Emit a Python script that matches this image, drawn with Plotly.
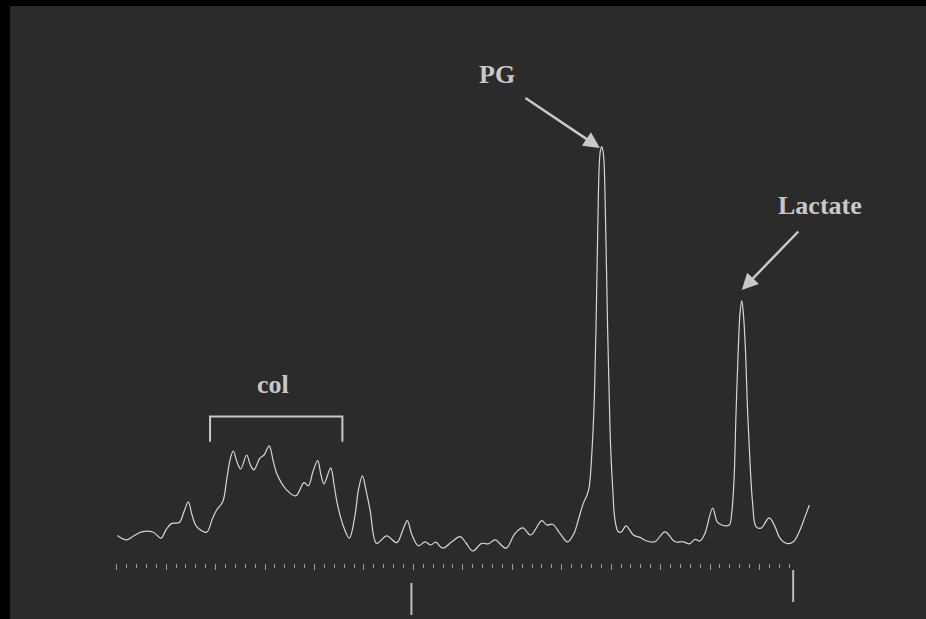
import plotly.graph_objects as go

# ---- spectrum (chemical shift in ppm, intensity normalised to PG peak) ----
ppm = [4.497, 4.449, 4.413, 4.374, 4.315, 4.276, 4.251, 4.222, 4.184, 4.160,
       4.138, 4.119, 4.096, 4.045, 4.018, 3.994, 3.964, 3.944, 3.927, 3.911,
       3.892, 3.873, 3.843, 3.824, 3.806, 3.776, 3.755, 3.729, 3.710, 3.691,
       3.641, 3.594, 3.553, 3.531, 3.508, 3.484, 3.467, 3.452, 3.418, 3.401,
       3.385, 3.356, 3.324, 3.295, 3.278, 3.258, 3.240, 3.219, 3.186, 3.135,
       3.084, 3.053, 3.031, 3.007, 2.975, 2.941, 2.913, 2.887, 2.852, 2.806,
       2.764, 2.734, 2.700, 2.655, 2.621, 2.587, 2.532, 2.486, 2.447, 2.407,
       2.351, 2.326, 2.296, 2.259, 2.220, 2.188, 2.166, 2.141, 2.122, 2.111,
       2.096, 2.085, 2.077, 2.068, 2.060, 2.054, 2.048, 2.041, 2.036, 2.026,
       2.018, 2.010, 2.003, 1.992, 1.981, 1.964, 1.947, 1.925, 1.888, 1.854,
       1.821, 1.779, 1.728, 1.677, 1.635, 1.605, 1.576, 1.551, 1.526, 1.487,
       1.464, 1.441, 1.403, 1.391, 1.379, 1.369, 1.357, 1.349, 1.340, 1.332,
       1.322, 1.310, 1.298, 1.285, 1.268, 1.243, 1.201, 1.172, 1.147, 1.113,
       1.079, 1.045, 1.020, 0.998]
intensity = [0.024, 0.013, 0.023, 0.033, 0.032, 0.017, 0.038, 0.054, 0.056, 0.083,
             0.108, 0.075, 0.046, 0.032, 0.063, 0.088, 0.108, 0.163, 0.213, 0.235,
             0.208, 0.190, 0.225, 0.200, 0.188, 0.217, 0.225, 0.248, 0.213, 0.179,
             0.138, 0.123, 0.156, 0.148, 0.183, 0.211, 0.175, 0.153, 0.193, 0.150,
             0.104, 0.050, 0.017, 0.075, 0.138, 0.173, 0.138, 0.088, 0.004, 0.023,
             0.006, 0.038, 0.061, 0.025, -0.002, 0.008, 0.000, 0.007, -0.008, 0.008,
             0.021, 0.005, -0.015, 0.004, 0.003, 0.013, -0.008, 0.029, 0.043, 0.025,
             0.061, 0.050, 0.052, 0.029, 0.008, 0.029, 0.063, 0.104, 0.125, 0.146,
             0.246, 0.371, 0.538, 0.788, 0.954, 0.988, 0.996, 0.983, 0.954, 0.746,
             0.538, 0.371, 0.246, 0.138, 0.063, 0.033, 0.033, 0.048, 0.025, 0.019,
             0.010, 0.008, 0.033, 0.008, 0.008, 0.003, 0.014, 0.010, 0.029, 0.092,
             0.058, 0.050, 0.050, 0.079, 0.163, 0.329, 0.496, 0.579, 0.611, 0.579,
             0.496, 0.329, 0.204, 0.104, 0.046, 0.042, 0.068, 0.046, 0.017, 0.004,
             0.008, 0.038, 0.071, 0.100]

# ---- scale ticks (ppm) ----
major_ticks = [4.5, 4.25, 4.0, 3.75, 3.5, 3.25, 3.0, 2.75, 2.5, 2.25, 2.0, 1.75, 1.5, 1.25]
minor_ticks = [round(4.5 - 0.05 * i, 2) for i in range(69) if i % 5 != 0]

# ---- reference markers below the scale (ppm, y-start, y-end) ----
marker_ppm = [3.01, 1.08]
marker_y0 = [-0.095, -0.0625]
marker_y1 = [-0.175, -0.1425]

# ---- labels ----
col_range = [4.028, 3.359]
col_bracket_y = [0.258, 0.321]
col_label = ("col", 3.712, 0.4025)
pg_label = ("PG", 2.575, 1.1775)
lac_label = ("Lactate", 0.942, 0.85)
pg_tip = (2.057, 0.9925)
lac_tip = (1.340, 0.6375)

LINE = "#d6d6d6"
TEXT = "#c8c8c8"
TICK = "#9c9c9c"

fig = go.Figure()
fig.add_trace(go.Scatter(x=ppm, y=intensity, mode="lines",
                         line=dict(color=LINE, width=1.2, shape="spline", smoothing=1.0),
                         hoverinfo="skip", showlegend=False))

for xm, a, b in zip(marker_ppm, marker_y0, marker_y1):
    fig.add_trace(go.Scatter(x=[xm, xm], y=[a, b], mode="lines",
                             line=dict(color="#bdbdbd", width=2),
                             hoverinfo="skip", showlegend=False))

fig.add_trace(go.Scatter(x=[col_range[0], col_range[0], col_range[1], col_range[1]],
                         y=[col_bracket_y[0], col_bracket_y[1], col_bracket_y[1], col_bracket_y[0]],
                         mode="lines", line=dict(color="#c8c8c8", width=2),
                         hoverinfo="skip", showlegend=False))

font = dict(family="Liberation Serif, Times New Roman, serif", size=26, color=TEXT, weight="bold")
for txt, xx, yy in (col_label, pg_label, lac_label):
    fig.add_annotation(x=xx, y=yy, text=txt, showarrow=False, font=font,
                       xanchor="center", yanchor="middle")

fig.add_annotation(x=pg_tip[0], y=pg_tip[1], text="", showarrow=True,
                   ax=-76, ay=-51, arrowhead=2, arrowsize=1.3, arrowwidth=2.5,
                   arrowcolor=TEXT, standoff=0)
fig.add_annotation(x=lac_tip[0], y=lac_tip[1], text="", showarrow=True,
                   ax=58, ay=-60, arrowhead=2, arrowsize=1.3, arrowwidth=2.5,
                   arrowcolor=TEXT, standoff=0)

fig.update_layout(
    width=926, height=619,
    margin=dict(l=10, r=0, t=6, b=0),
    paper_bgcolor="black", plot_bgcolor="#2b2b2b",
    showlegend=False,
    hovermode=False,
    xaxis=dict(range=[5.0394, 0.4085], showgrid=False, zeroline=False, showline=False,
               anchor="free", position=0.0914,
               tickmode="array", tickvals=major_ticks, ticks="outside",
               ticklen=6, tickwidth=1, tickcolor=TICK, showticklabels=False,
               minor=dict(tickmode="array", tickvals=minor_ticks, ticks="outside",
                          ticklen=4, tickwidth=1, tickcolor=TICK, showgrid=False)),
    yaxis=dict(range=[-0.185, 1.3475], showgrid=False, zeroline=False, showline=False,
               showticklabels=False, ticks=""),
)

fig.write_html("out.html",
               config={"displayModeBar": False},
               post_script="document.body.style.margin='0';document.body.style.overflow='hidden';document.body.style.background='black';")
